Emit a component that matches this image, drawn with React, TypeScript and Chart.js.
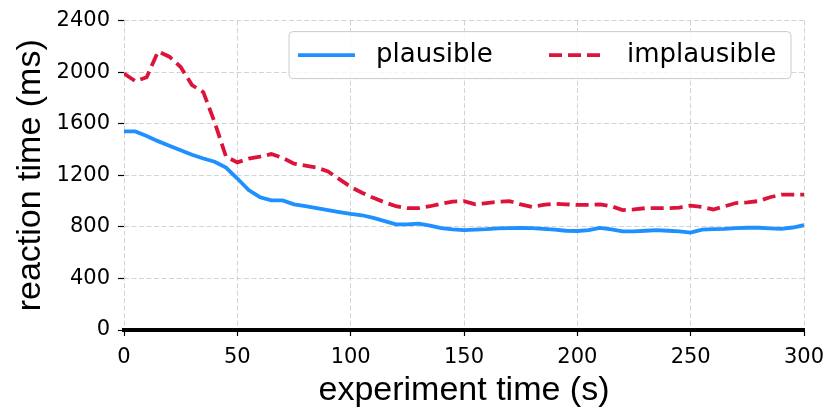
import React, { useEffect, useRef } from "react";
import { Chart, registerables } from "chart.js";

Chart.register(...registerables);

const timeSeconds = [
  0, 5, 10, 15, 20, 25, 30, 35, 40, 45, 50, 55, 60, 65, 70, 75, 80, 85, 90, 95,
  100, 105, 110, 115, 120, 125, 130, 135, 140, 145, 150, 155, 160, 165, 170, 175,
  180, 185, 190, 195, 200, 205, 210, 215, 220, 225, 230, 235, 240, 245, 250, 255,
  260, 265, 270, 275, 280, 285, 290, 295, 300,
];

const plausible = [
  1540, 1540, 1505, 1465, 1430, 1395, 1360, 1330, 1305, 1260, 1175, 1085, 1030, 1005, 1005, 975, 960, 945, 930, 915,
  900, 890, 870, 845, 820, 820, 825, 810, 790, 780, 775, 778, 782, 788, 790, 792,
  790, 785, 778, 770, 768, 775, 792, 780, 765, 765, 770, 775, 770, 765, 755, 778,
  782, 785, 790, 793, 793, 788, 785, 795, 813,
];

const implausible = [
  1990, 1930, 1960, 2160, 2120, 2040, 1900, 1845, 1610, 1345, 1300, 1330, 1345, 1365, 1335, 1290, 1275, 1260, 1230, 1170,
  1110, 1065, 1025, 990, 960, 945, 945, 960, 980, 995, 1000, 975, 985, 995, 1000, 975,
  955, 970, 980, 975, 970, 970, 975, 960, 930, 935, 945, 945, 945, 950, 965, 955,
  935, 960, 985, 990, 1000, 1030, 1050, 1050, 1050,
];

const seriesLabels = ["plausible", "implausible"];
const xTicks = [0, 50, 100, 150, 200, 250, 300];
const yTicks = [0, 400, 800, 1200, 1600, 2000, 2400];

const BLUE = "#1E90FF";
const RED = "#DC143C";
const RED_DASH = [13, 6];

const legendPlugin = {
  id: "boxLegend",
  afterDraw(chart: any) {
    const ctx = chart.ctx;
    const area = chart.chartArea;
    const right = area.right - 13;
    const left = right - 502;
    const top = area.top + 11;
    const h = 47;
    const r = 4;
    ctx.save();
    ctx.beginPath();
    ctx.moveTo(left + r, top);
    ctx.lineTo(right - r, top);
    ctx.arcTo(right, top, right, top + r, r);
    ctx.lineTo(right, top + h - r);
    ctx.arcTo(right, top + h, right - r, top + h, r);
    ctx.lineTo(left + r, top + h);
    ctx.arcTo(left, top + h, left, top + h - r, r);
    ctx.lineTo(left, top + r);
    ctx.arcTo(left, top, left + r, top, r);
    ctx.closePath();
    ctx.fillStyle = "rgba(255,255,255,0.8)";
    ctx.fill();
    ctx.strokeStyle = "#cccccc";
    ctx.lineWidth = 1;
    ctx.stroke();

    const cy = top + h / 2;
    const items = chart.data.datasets.map((d: any) => ({
      label: d.label,
      color: d.borderColor,
      dash: d.borderDash || [],
    }));
    const sampleX = [left + 9, left + 260];
    items.forEach((it: any, i: number) => {
      const x0 = sampleX[i];
      ctx.beginPath();
      ctx.setLineDash(it.dash);
      ctx.lineCap = "butt";
      ctx.strokeStyle = it.color;
      ctx.lineWidth = 3.8;
      ctx.moveTo(x0, cy);
      ctx.lineTo(x0 + 57, cy);
      ctx.stroke();
      ctx.setLineDash([]);
      ctx.fillStyle = "#000";
      ctx.font = "26px 'DejaVu Sans'";
      ctx.textBaseline = "middle";
      ctx.textAlign = "left";
      ctx.fillText(it.label, x0 + 78, cy);
    });
    ctx.restore();
  },
};

export default function App() {
  const canvasRef = useRef<HTMLCanvasElement | null>(null);

  useEffect(() => {
    document.body.style.margin = "0";
    const canvas = canvasRef.current;
    if (!canvas) return;
    const chart = new Chart(canvas, {
      type: "line",
      data: {
        labels: timeSeconds,
        datasets: [
          {
            label: seriesLabels[0],
            data: timeSeconds.map((t, i) => ({ x: t, y: plausible[i] })),
            borderColor: BLUE,
            borderWidth: 3.8,
            pointRadius: 0,
            tension: 0,
            fill: false,
          },
          {
            label: seriesLabels[1],
            data: timeSeconds.map((t, i) => ({ x: t, y: implausible[i] })),
            borderColor: RED,
            borderWidth: 3.8,
            borderDash: RED_DASH,
            pointRadius: 0,
            tension: 0,
            fill: false,
          },
        ],
      },
      options: {
        animation: false,
        responsive: false,
        devicePixelRatio: 1,
        layout: { padding: { top: 17, right: 26, left: 0, bottom: 0 } },
        plugins: {
          legend: { display: false },
          tooltip: { enabled: false },
        },
        scales: {
          x: {
            type: "linear",
            min: 0,
            max: 300,
            afterBuildTicks: (scale: any) => {
              scale.ticks = xTicks.map((v) => ({ value: v }));
            },
            afterFit: (scale: any) => {
              scale.height = 85;
              scale.paddingLeft = 0;
              scale.paddingRight = 0;
            },
            ticks: {
              color: "#000",
              font: { family: "'DejaVu Sans'", size: 21 },
              padding: 9,
              maxRotation: 0,
              callback: (v: any) => String(v),
            },
            grid: {
              color: "#d3d3d3",
              lineWidth: 1,
              tickColor: "#000",
              tickLength: 6,
              tickWidth: 1.2,
              tickBorderDash: [],
            },
            border: { display: true, color: "#000", width: 4, dash: [5, 2.5] },
            title: {
              display: true,
              text: "experiment time (s)",
              color: "#000",
              font: { family: "'Liberation Sans'", size: 34 },
              padding: { top: 0, bottom: 4 },
            },
          },
          y: {
            type: "linear",
            min: 0,
            max: 2400,
            afterBuildTicks: (scale: any) => {
              scale.ticks = yTicks.map((v) => ({ value: v }));
            },
            afterFit: (scale: any) => {
              scale.width = 124;
            },
            ticks: {
              color: "#000",
              font: { family: "'DejaVu Sans'", size: 21 },
              padding: 8,
              callback: (v: any) => String(v),
            },
            grid: {
              color: "#d3d3d3",
              lineWidth: 1,
              tickColor: "#000",
              tickLength: 6,
              tickWidth: 1.2,
              tickBorderDash: [],
            },
            border: { display: false, dash: [5, 2.5] },
            title: {
              display: true,
              text: "reaction time (ms)",
              color: "#000",
              font: { family: "'Liberation Sans'", size: 34 },
              padding: { top: 10, bottom: 0 },
            },
          },
        },
      },
      plugins: [legendPlugin],
    } as any);
    return () => chart.destroy();
  }, []);

  return (
    <div style={{ width: 830, height: 415 }}>
      <canvas ref={canvasRef} width={830} height={415} style={{ width: 830, height: 415, display: "block" }} />
    </div>
  );
}
